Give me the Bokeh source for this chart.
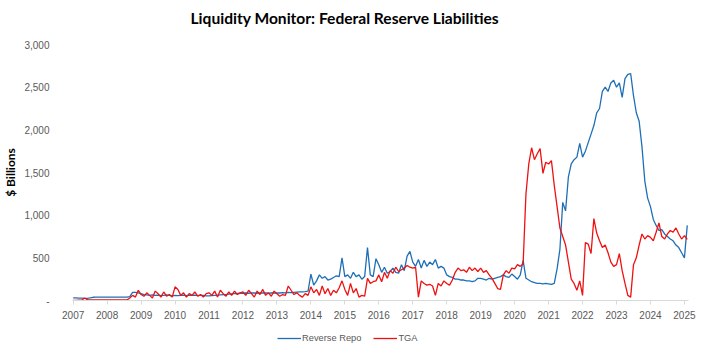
import pandas as pd
from bokeh.plotting import figure
from bokeh.layouts import column
from bokeh.models import FixedTicker, Legend, LegendItem, Range1d, NumeralTickFormatter, Title
from bokeh.embed import file_html
from bokeh.resources import INLINE

reverse_repo = (
    [30, 30, 28, 28, 26, 26, 30, 38, 40, 40, 40, 40] +                 # 2007
    [40, 40, 40, 40, 40, 40, 40, 40, 45, 95, 95, 90] +                 # 2008
    [80, 70, 65, 60, 65, 60, 62, 58, 60, 65, 60, 55] +                 # 2009
    [60, 58, 60, 62, 58, 60, 60, 62, 58, 60, 60, 55] +                 # 2010
    [55, 58, 60, 62, 65, 68, 70, 75, 78, 80, 82, 85] +                 # 2011
    [85, 88, 85, 90, 88, 85, 90, 88, 90, 85, 90, 88] +                 # 2012
    [90, 88, 92, 90, 95, 92, 95, 98, 100, 102, 105, 110] +             # 2013
    [310, 180, 230, 300, 260, 280, 240, 250, 270, 290, 280, 500] +     # 2014
    [280, 300, 260, 330, 280, 300, 250, 280, 620, 300, 280, 490] +     # 2015
    [420, 330, 390, 320, 340, 380, 330, 320, 420, 350, 520, 575] +     # 2016
    [450, 400, 480, 380, 470, 400, 450, 420, 480, 380, 400, 380] +     # 2017
    [300, 280, 270, 250, 250, 240, 240, 230, 230, 220, 230, 260] +     # 2018
    [260, 250, 240, 260, 250, 260, 270, 280, 300, 280, 270, 310] +     # 2019
    [280, 250, 300, 470, 260, 240, 220, 210, 200, 200, 195, 200] +     # 2020
    [195, 190, 200, 370, 600, 1150, 1050, 1450, 1600, 1650, 1680, 1840] +  # 2021
    [1680, 1750, 1850, 1950, 2050, 2200, 2250, 2450, 2500, 2450, 2550, 2580] +  # 2022
    [2500, 2550, 2380, 2600, 2650, 2660, 2400, 2200, 2100, 1800, 1400, 1200] +  # 2023
    [1100, 950, 880, 820, 830, 780, 750, 720, 700, 650, 620, 560] +    # 2024
    [500, 880]                                                          # 2025
)

tga = (
    [2, 2, 3, 4, 30, 10, 8, 8, 6, 6, 6, 6] +                           # 2007
    [6, 6, 6, 6, 6, 6, 6, 6, 30, 60, 40, 120] +                        # 2008
    [70, 50, 90, 60, 30, 110, 80, 40, 100, 50, 70, 40] +               # 2009
    [160, 130, 60, 90, 40, 80, 60, 100, 50, 70, 40, 80] +              # 2010
    [90, 60, 110, 40, 120, 80, 50, 100, 60, 110, 70, 90] +             # 2011
    [100, 60, 120, 80, 40, 110, 70, 130, 60, 90, 50, 110] +            # 2012
    [80, 50, 70, 60, 170, 120, 70, 90, 60, 40, 80, 60] +               # 2013
    [160, 90, 130, 60, 170, 80, 140, 60, 120, 90, 150, 230] +          # 2014
    [130, 60, 200, 90, 140, 40, 60, 50, 260, 200, 220, 230] +          # 2015
    [300, 220, 330, 260, 350, 320, 390, 340, 360, 380, 410, 390] +     # 2016
    [380, 390, 40, 230, 200, 180, 190, 170, 60, 200, 170, 230] +       # 2017
    [200, 180, 240, 330, 380, 350, 360, 330, 390, 350, 380, 340] +     # 2018
    [380, 330, 350, 300, 260, 200, 140, 130, 300, 350, 320, 380] +     # 2019
    [370, 420, 400, 430, 1250, 1600, 1790, 1650, 1720, 1780, 1490, 1620] +  # 2020
    [1600, 1640, 1350, 1100, 850, 750, 650, 450, 250, 200, 120, 230] +  # 2021
    [60, 680, 660, 550, 960, 790, 700, 620, 650, 560, 450, 400] +      # 2022
    [420, 550, 350, 200, 60, 40, 420, 500, 650, 780, 720, 760] +       # 2023
    [740, 700, 800, 910, 750, 720, 780, 820, 800, 850, 780, 720] +     # 2024
    [760, 715]                                                          # 2025
)

series_names = ["Reverse Repo", "TGA"]
chart_title = "Liquidity Monitor: Federal Reserve Liabilities"

dates = pd.date_range("2007-01-01", periods=len(reverse_repo), freq="MS")
xs = [d.year + (d.month - 1) / 12 for d in dates]

year_ticks = list(range(2007, 2026))
y_ticks = [0, 500, 1000, 1500, 2000, 2500, 3000]

GRAY = "#595959"
BLUE = "#1F6FB6"
RED = "#EE1111"

p = figure(width=720, height=330, output_backend="svg", toolbar_location=None,
           min_border_left=59, min_border_right=32, min_border_top=44, min_border_bottom=30)
p.x_range = Range1d(2006.98, 2025.12)
p.y_range = Range1d(0, 3000)

# spacer title (closest to the frame) pushes the real title upward
p.add_layout(Title(text=" ", text_font_size="1px"), "above")
p.add_layout(Title(text=chart_title, align="left", offset=118,
                   text_font="Lato", text_font_size="15.6px",
                   text_font_style="bold", text_color="#000000"), "above")

p.line(xs, reverse_repo, line_color=BLUE, line_width=1.3)
p.line(xs, tga, line_color=RED, line_width=1.3)

p.xgrid.visible = False
p.ygrid.visible = False
p.outline_line_color = None

xa = p.xaxis[0]
xa.ticker = FixedTicker(ticks=year_ticks)
xa.major_label_overrides = {y: str(y) for y in year_ticks}
xa.axis_line_color = "#D9D9D9"
xa.major_tick_line_color = "#D9D9D9"
xa.major_tick_out = 4
xa.major_tick_in = 0
xa.minor_tick_line_color = None
xa.major_label_text_font = "Liberation Sans"
xa.major_label_text_font_size = "10px"
xa.major_label_text_color = GRAY
xa.major_label_standoff = 6

ya = p.yaxis[0]
ya.ticker = FixedTicker(ticks=y_ticks)
ya.formatter = NumeralTickFormatter(format="0,0")
ya.major_label_overrides = {0: "-"}
ya.axis_line_color = None
ya.major_tick_line_color = None
ya.minor_tick_line_color = None
ya.major_label_text_font = "Liberation Sans"
ya.major_label_text_font_size = "10px"
ya.major_label_text_color = GRAY
ya.major_label_standoff = 17
ya.axis_label = "$ Billions"
ya.axis_label_text_font = "Lato"
ya.axis_label_text_font_size = "12px"
ya.axis_label_text_font_style = "bold"
ya.axis_label_text_color = "#000000"
ya.axis_label_standoff = 3

# legend strip below the chart (series drawn outside its visible range,
# so only the legend keys show)
lg = figure(width=720, height=23, output_backend="svg", toolbar_location=None,
            x_axis_type=None, y_axis_type=None,
            min_border_left=59, min_border_right=32, min_border_top=0, min_border_bottom=0,
            x_range=Range1d(2006.98, 2025.12), y_range=Range1d(10000, 10001))
lg.outline_line_color = None
lg.xgrid.visible = False
lg.ygrid.visible = False
g1 = lg.line(xs, reverse_repo, line_color=BLUE, line_width=1.3)
g2 = lg.line(xs, tga, line_color=RED, line_width=1.3)
legend = Legend(items=[LegendItem(label=series_names[0], renderers=[g1]),
                       LegendItem(label=series_names[1], renderers=[g2])],
                orientation="horizontal", location=(203, 7),
                label_text_font="Liberation Sans", label_text_font_size="9.3px",
                label_text_color=GRAY, glyph_width=24, glyph_height=12,
                label_standoff=1, spacing=12, padding=2, margin=0,
                border_line_alpha=0, background_fill_alpha=0)
lg.add_layout(legend, "center")

open("out.html", "w").write(file_html(column(p, lg, spacing=0), INLINE))
